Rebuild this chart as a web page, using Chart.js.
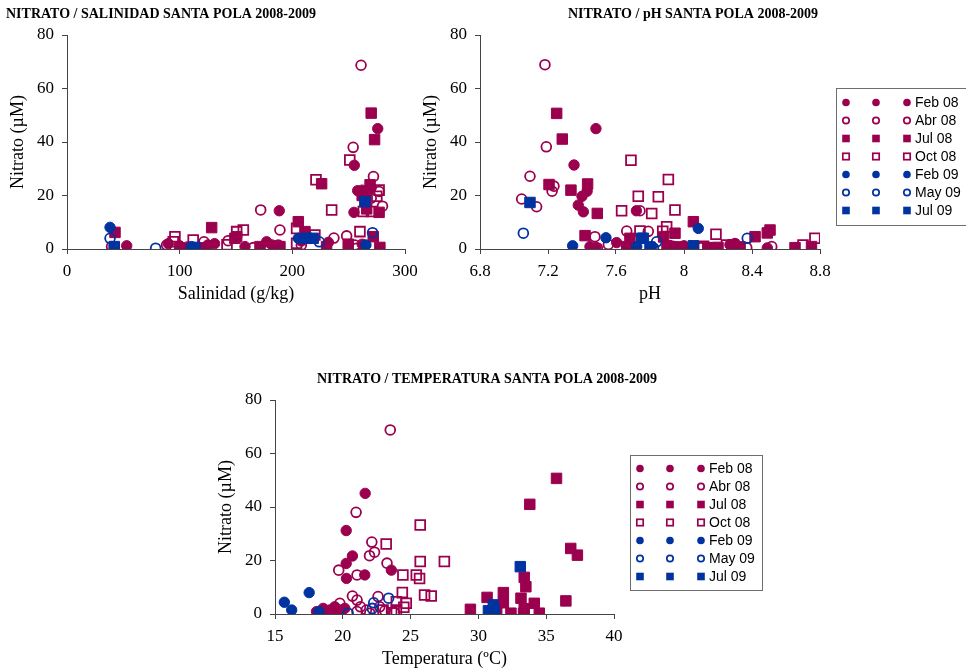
<!DOCTYPE html>
<html>
<head>
<meta charset="utf-8">
<script src="https://cdn.jsdelivr.net/npm/chart.js@4/dist/chart.umd.min.js"></script>
<style>
  html, body { margin: 0; padding: 0; background: #fff; }
  #wrap { position: relative; width: 966px; height: 669px; overflow: hidden; background: #fff; }
  #wrap canvas { position: absolute; left: 0; top: 0; }
</style>
</head>
<body>
<div id="wrap">
  <canvas id="cSal" width="966" height="669"></canvas>
  <canvas id="cPh" width="966" height="669"></canvas>
  <canvas id="cTemp" width="966" height="669"></canvas>
</div>
<script>
// ---- Sampling campaigns ----
const seriesLabels = ['Feb 08', 'Abr 08', 'Jul 08', 'Oct 08', 'Feb 09', 'May 09', 'Jul 09'];

// ---- Tick labels ----
const nitratoTicks = [0, 20, 40, 60, 80];
const salinidadTicks = [0, 100, 200, 300];
const phTicks = [6.8, 7.2, 7.6, 8, 8.4, 8.8];
const temperaturaTicks = [15, 20, 25, 30, 35, 40];

// ---- Nitrato (µM) vs salinidad (g/kg): [salinidad, nitrato] ----
const salFeb08 = [[275.8,45.0],[255,31.3],[258,21.8],[262,22],[266,21.5],[270,23],[254.7,13.7],[188.4,14.3],[53,1.2],[89.9,2],[100,1.2],[107,0.8],[125,1.5],[131,2],[158,0.9],[177.2,2.7],[182,1.5],[208,3],[232,2.5],[262,1.8]];
const salAbr08 = [[261,68.7],[254,38],[272,27.1],[277,21.5],[280,16],[270,19],[171.9,14.6],[189,7.1],[236.9,4.1],[248.2,4.9],[39.6,0.9],[88.4,1.5],[121.6,2.7],[143,3.1],[165.3,0.5],[187.5,1.5],[208,1.5],[255.5,1.5],[257,0.3]];
const salJul08 = [[270,50.8],[273,40.9],[226,24.4],[269,24],[277,13.7],[266,15],[262,20],[128.4,8],[205.3,10.2],[211.2,6.5],[150.6,4.6],[149,4],[42.6,6.2],[42,0],[230.4,0.9],[249.6,1.8],[277.7,0.6],[271.8,4.6],[171.3,0.9],[189,0.9],[121,0.4],[100,0.4]];
const salOct08 = [[251,33.3],[221,25.9],[234.9,14.6],[275,19.7],[277,22],[265,18],[270.3,14],[263,14],[260,6.5],[156.5,7.1],[150.6,6.5],[203.8,7.7],[220,5.2],[95.8,4.6],[94.3,2.7],[112,3.4],[142,1.6],[203.8,2.1],[124,0.4]];
const salFeb09 = [[38.2,8.1],[110.6,0.9],[205.3,4],[265.3,1.5]];
const salMay09 = [[38.2,4],[78.7,0.3],[223.9,2.7],[271.2,6.1]];
const salJul09 = [[42,0.9],[113.6,0.6],[212.7,4],[218.5,4],[264.4,17.7]];

// ---- Nitrato (µM) vs pH: [pH, nitrato] ----
const phFeb08 = [[7.482,45],[7.353,31.4],[7.43,21.6],[7.40,19.7],[7.378,16.4],[7.408,13.9],[7.72,14.3],[7.604,2.4],[7.447,0.9],[7.482,0.6],[7.94,1],[8.27,1.6],[8.49,0.4],[8.15,0.6],[8.0,1.2]];
const phAbr08 = [[7.182,68.9],[7.19,38.2],[7.094,27.2],[7.045,18.7],[7.133,15.8],[7.224,21.6],[7.235,23.5],[7.476,4.6],[7.49,0.4],[7.555,1.7],[7.663,6.7],[7.79,6.6],[7.741,14.3],[8.369,0.5],[8.516,0.9],[8.30,2],[8.1,0.5]];
const phJul08 = [[7.251,50.7],[7.284,41.1],[7.206,24.1],[7.335,22],[7.433,24.3],[7.49,13.3],[7.418,5],[8.055,10.2],[7.947,5.9],[8.506,7.1],[8.49,6],[8.418,4.6],[7.663,0.9],[7.682,4],[7.9,1.2],[7.96,0.8],[8.14,0.5],[8.2,0.6],[8.29,1.6],[8.33,0.8],[8.653,0.5],[8.75,0.9],[7.88,4.5]];
const phOct08 = [[7.688,33.2],[7.908,26],[7.731,19.7],[7.849,19.5],[7.81,13.3],[7.633,14.3],[7.947,14.6],[8.188,5.5],[7.741,6.7],[7.875,6.6],[7.898,8.3],[8.77,4],[8.7,1.5],[8.114,1],[8.25,1.5]];
const phFeb09 = [[7.345,1.2],[7.541,4.2],[7.722,0.9],[7.81,0.9],[8.084,7.7]];
const phMay09 = [[7.055,5.9],[7.839,2.7],[8.372,4],[7.82,0.4]];
const phJul09 = [[7.094,17.4],[7.751,4],[7.761,4],[7.80,0.7],[8.055,1.2]];

// ---- Nitrato (µM) vs temperatura (ºC): [temperatura, nitrato] ----
const tempFeb08 = [[21.65,45.1],[20.25,31.2],[20.71,21.7],[20.25,18.9],[20.27,13.3],[21.62,14.6],[23.58,16.4],[18.06,0.9],[18.55,2.1],[19.04,1.5],[19.41,2.7],[19.9,1.5],[20.15,2.1],[18.8,0.3],[19.6,0.4]];
const tempAbr08 = [[23.5,68.8],[20.98,38],[22.14,26.9],[22.34,23.1],[21.97,21.8],[19.7,16.4],[21.05,14.6],[23.26,19],[19.78,4],[20.71,6.7],[21.05,5.2],[21.3,2.7],[21.05,0.9],[21.99,0.3],[22.6,6.5],[22.72,2.7],[21.74,1.5],[23.1,1.2],[23.8,0.5]];
const tempJul08 = [[35.76,50.7],[33.79,41],[36.81,24.5],[37.3,22],[33.38,13.7],[33.5,10.2],[29.41,1.75],[30.64,6.2],[31.84,8],[31.84,4.2],[31.35,0.9],[33.14,5.9],[34.12,4],[33.38,2],[32.4,0.3],[33.33,0.3],[34.49,0.3],[36.45,4.9]];
const tempOct08 = [[25.71,33.3],[23.2,26.2],[25.71,19.6],[27.49,19.6],[24.43,14.6],[25.42,14.6],[25.66,13.3],[26.03,7.1],[26.52,6.7],[24.39,8],[24.68,4],[23.95,4.6],[23.95,1.5],[22.97,1.5],[23.6,0.5],[24.5,2.5]];
const tempFeb09 = [[15.69,4.4],[16.23,1.5],[17.52,8],[18.24,0.9]];
const tempMay09 = [[20.39,0.3],[22.28,4.2],[22.18,2.1],[23.38,5.9]];
const tempJul09 = [[33.09,17.7],[31.1,3.4],[30.74,1.2],[31.18,0.9]];

// ---- Styling ----
const MAROON = '#9B004F';
const BLUE = '#0033A0';
const AXIS = '#444';
const SERIF = "'Liberation Serif', 'Times New Roman', serif";
const SANS = "'Liberation Sans', Arial, sans-serif";

const markerStyles = [
  { color: MAROON, shape: 'circle', filled: true },
  { color: MAROON, shape: 'circle', filled: false },
  { color: MAROON, shape: 'rect', filled: true },
  { color: MAROON, shape: 'rect', filled: false },
  { color: BLUE, shape: 'circle', filled: true },
  { color: BLUE, shape: 'circle', filled: false },
  { color: BLUE, shape: 'rect', filled: true }
];

function buildDatasets(groups) {
  return groups.map((pts, i) => {
    const s = markerStyles[i];
    const isRect = s.shape === 'rect';
    return {
      label: seriesLabels[i],
      data: pts.map(([x, y]) => ({ x, y })),
      pointStyle: s.shape,
      pointRadius: isRect ? (s.filled ? 7.4 : 6.9) : (s.filled ? 5.2 : 4.9),
      pointBackgroundColor: s.filled ? s.color : 'rgba(0,0,0,0)',
      pointBorderColor: s.color,
      pointBorderWidth: s.filled ? 1 : 1.8,
      showLine: false,
      markerShape: s.shape,
      markerFilled: s.filled,
      markerColor: s.color,
      order: markerStyles.length - i   // later campaigns sit on top
    };
  });
}

// Bold heading above each plot
const headline = {
  id: 'headline',
  afterDraw(chart, args, opts) {
    const ctx = chart.ctx;
    ctx.save();
    ctx.font = 'bold 14px ' + SERIF;
    ctx.fillStyle = '#000';
    ctx.textAlign = 'center';
    ctx.textBaseline = 'alphabetic';
    ctx.fillText(opts.text, opts.x, opts.y);
    ctx.restore();
  }
};

// Boxed key: three markers per row followed by the campaign name
const keyBox = {
  id: 'keyBox',
  afterDraw(chart, args, opts) {
    if (!opts.show) return;
    const ctx = chart.ctx;
    ctx.save();
    ctx.strokeStyle = '#6e6e6e';
    ctx.lineWidth = 1;
    ctx.strokeRect(opts.x + 0.5, opts.y + 0.5, opts.w, opts.h);
    ctx.font = '14px ' + SANS;
    ctx.textBaseline = 'middle';
    ctx.textAlign = 'left';
    chart.data.datasets.forEach((ds, i) => {
      const cy = opts.y + opts.first + i * opts.gap;
      [10, 40, 71].forEach(dx => {
        const cx = opts.x + dx;
        ctx.beginPath();
        if (ds.markerShape === 'circle') {
          if (ds.markerFilled) {
            ctx.arc(cx, cy, 3.8, 0, Math.PI * 2);
            ctx.fillStyle = ds.markerColor; ctx.fill();
          } else {
            ctx.arc(cx, cy, 3.2, 0, Math.PI * 2);
            ctx.strokeStyle = ds.markerColor; ctx.lineWidth = 1.7; ctx.stroke();
          }
        } else {
          if (ds.markerFilled) {
            ctx.fillStyle = ds.markerColor; ctx.fillRect(cx - 3.8, cy - 3.8, 7.6, 7.6);
          } else {
            ctx.strokeStyle = ds.markerColor; ctx.lineWidth = 1.7; ctx.strokeRect(cx - 3.2, cy - 3.2, 6.4, 6.4);
          }
        }
      });
      ctx.fillStyle = '#000';
      ctx.fillText(ds.label, opts.x + 79, cy + 1);
    });
    ctx.restore();
  }
};

function makeChart(id, groups, cfg) {
  const xTickList = cfg.xTicks;
  return new Chart(document.getElementById(id), {
    type: 'scatter',
    data: { datasets: buildDatasets(groups) },
    plugins: [headline, keyBox],
    options: {
      responsive: false,
      animation: false,
      events: [],
      layout: { padding: cfg.padding },
      plugins: {
        legend: { display: false },
        tooltip: { enabled: false },
        headline: cfg.heading,
        keyBox: cfg.key
      },
      scales: {
        x: {
          type: 'linear',
          min: xTickList[0],
          max: xTickList[xTickList.length - 1],
          afterBuildTicks: s => { s.ticks = xTickList.map(v => ({ value: v })); },
          afterFit: s => { s.height = 55; },
          grid: { display: true, drawOnChartArea: false, drawTicks: true, tickLength: 5, color: AXIS },
          border: { display: true, color: AXIS, width: 1 },
          ticks: { color: '#000', font: { family: SERIF, size: 17 }, padding: 7, maxRotation: 0, autoSkip: false, callback: v => String(v) },
          title: { display: true, text: cfg.xTitle, color: '#000', font: { family: SERIF, size: 18 }, padding: { top: 0, bottom: -1.5 } }
        },
        y: {
          type: 'linear',
          min: 0,
          max: 80,
          afterBuildTicks: s => { s.ticks = nitratoTicks.map(v => ({ value: v })); },
          afterFit: s => { s.width = 67; },
          grid: { display: true, drawOnChartArea: false, drawTicks: true, tickLength: 5, color: AXIS },
          border: { display: true, color: AXIS, width: 1 },
          ticks: { color: '#000', font: { family: SERIF, size: 17 }, padding: 8, callback: v => String(v) },
          title: { display: true, text: 'Nitrato (µM)', color: '#000', font: { family: SERIF, size: 18 }, padding: { top: 7, bottom: 0 } }
        }
      }
    }
  });
}

makeChart('cSal', [salFeb08, salAbr08, salJul08, salOct08, salFeb09, salMay09, salJul09], {
  xTicks: salinidadTicks,
  xTitle: 'Salinidad (g/kg)',
  padding: { left: 0, top: 35, right: 561, bottom: 365 },
  heading: { text: 'NITRATO / SALINIDAD SANTA POLA 2008-2009', x: 161, y: 18 },
  key: { show: false }
});

makeChart('cPh', [phFeb08, phAbr08, phJul08, phOct08, phFeb09, phMay09, phJul09], {
  xTicks: phTicks,
  xTitle: 'pH',
  padding: { left: 413, top: 35, right: 146, bottom: 365 },
  heading: { text: 'NITRATO / pH SANTA POLA 2008-2009', x: 693, y: 18 },
  key: { show: true, x: 836, y: 88, w: 140, h: 137, first: 14.5, gap: 18 }
});

makeChart('cTemp', [tempFeb08, tempAbr08, tempJul08, tempOct08, tempFeb09, tempMay09, tempJul09], {
  xTicks: temperaturaTicks,
  xTitle: 'Temperatura (ºC)',
  padding: { left: 208, top: 400, right: 352, bottom: 0 },
  heading: { text: 'NITRATO / TEMPERATURA SANTA POLA 2008-2009', x: 487, y: 383 },
  key: { show: true, x: 630, y: 455, w: 132, h: 135, first: 13.5, gap: 18 }
});
</script>
</body>
</html>
